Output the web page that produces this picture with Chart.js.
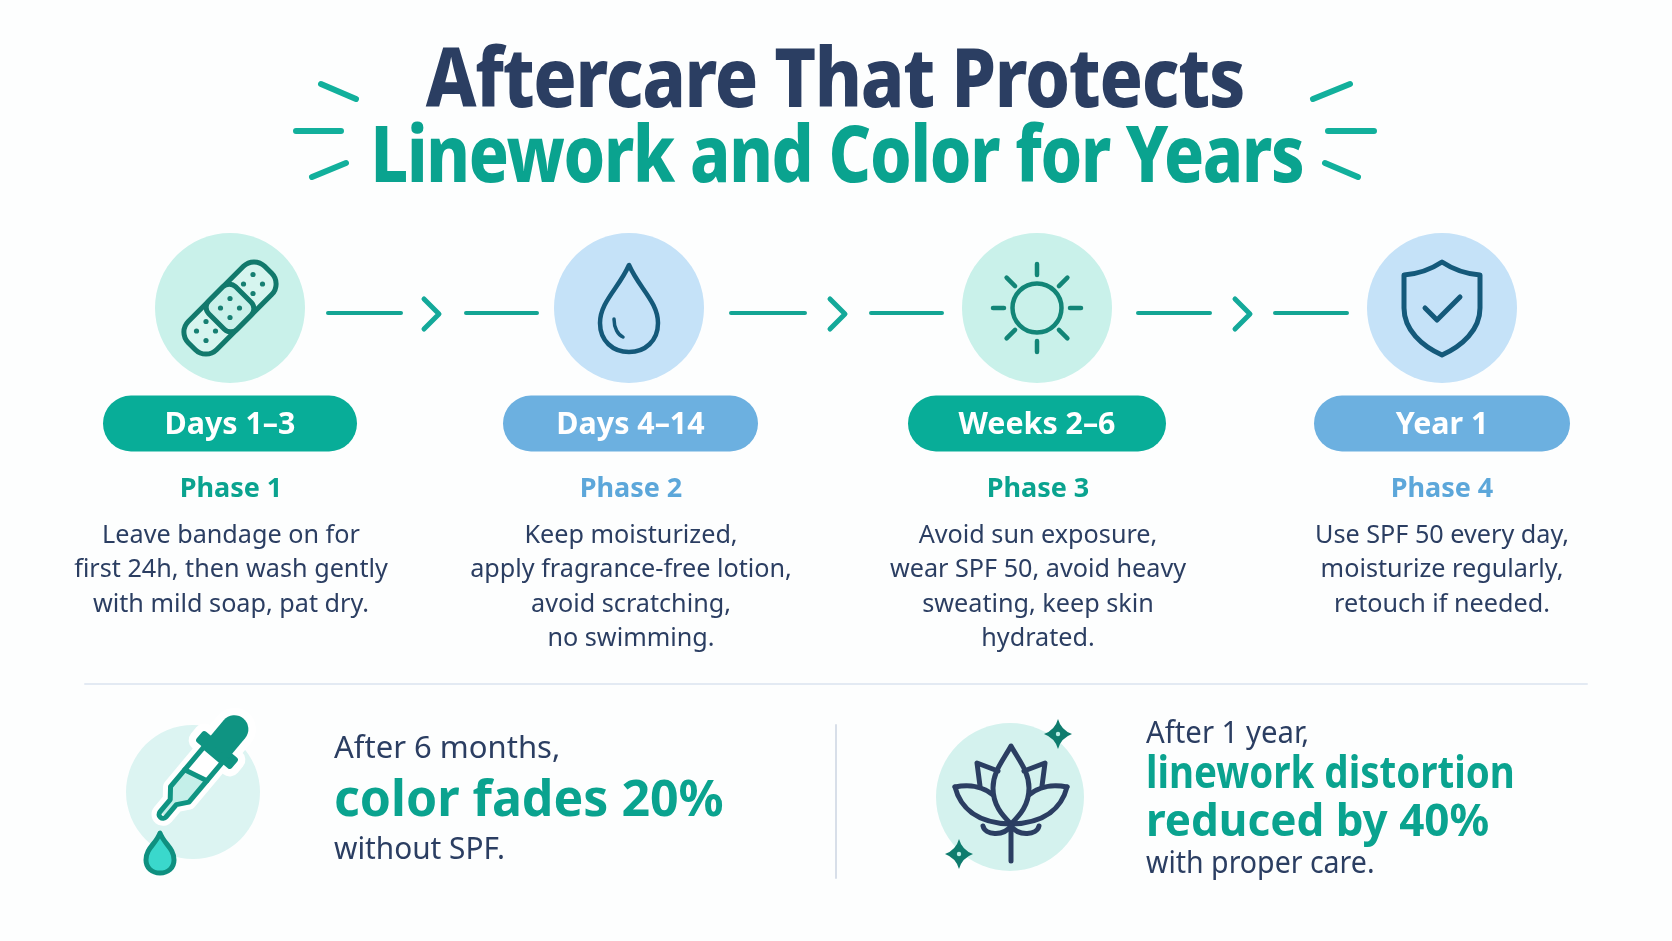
<!DOCTYPE html>
<html>
<head>
<meta charset="utf-8">
<title>Aftercare That Protects</title>
<script src="https://cdn.jsdelivr.net/npm/chart.js@4"></script>
<style>
  html, body { margin: 0; padding: 0; background: #fdfefe; }
  canvas { display: block; }
</style>
</head>
<body>
<canvas id="chart" width="1672" height="941"></canvas>
<script>
var titleLines = ['Aftercare That Protects', 'Linework and Color for Years'];
var stages = ['Days 1–3', 'Days 4–14', 'Weeks 2–6', 'Year 1'];
var phases = ['Phase 1', 'Phase 2', 'Phase 3', 'Phase 4'];
var phaseNotes = [
  ['Leave bandage on for', 'first 24h, then wash gently', 'with mild soap, pat dry.'],
  ['Keep moisturized,', 'apply fragrance-free lotion,', 'avoid scratching,', 'no swimming.'],
  ['Avoid sun exposure,', 'wear SPF 50, avoid heavy', 'sweating, keep skin', 'hydrated.'],
  ['Use SPF 50 every day,', 'moisturize regularly,', 'retouch if needed.']
];
var leftCallout = ['After 6 months,', 'color fades 20%', 'without SPF.'];
var rightCallout = ['After 1 year,', 'linework distortion', 'reduced by 40%', 'with proper care.'];

// layout, in page units (the x and y scales run over the whole page)
var stepX = [230, 629, 1037, 1442];
var noteX = [231, 631, 1038, 1442];
var pillEnds = [[103, 357], [503, 758], [908, 1166], [1314, 1570]];
var linkEnds = [[328, 401], [466, 537], [731, 805], [871, 942], [1138, 1210], [1275, 1347]];
var chevronX = [424, 830, 1235];

var TEAL = '#0aa38f';
var PILL_TEAL = '#08ad98';
var PILL_BLUE = '#6cb0e0';
var BLUE = '#5ca7da';
var NAVY = '#2b3e62';
var ICON_TEAL = '#12796c';
var ICON_SUN = '#128577';
var ICON_BLUE = '#14597a';
var FONT = '"Noto Sans", sans-serif';

function gapped(segments) {
  var pts = [];
  segments.forEach(function (seg, i) {
    if (i) pts.push({ x: NaN, y: NaN });
    seg.forEach(function (p) { pts.push({ x: p[0], y: p[1] }); });
  });
  return pts;
}

function lineSet(segments, color, width) {
  return {
    type: 'scatter',
    data: gapped(segments),
    showLine: true,
    clip: false,
    borderColor: color,
    borderWidth: width,
    borderCapStyle: 'round',
    borderJoinStyle: 'round',
    pointRadius: 0,
    spanGaps: false
  };
}

var datasets = [];

// step discs and the two callout discs
datasets.push({
  type: 'scatter',
  clip: false,
  data: stepX.map(function (x) { return { x: x, y: 308 }; }).concat([{ x: 193, y: 792 }, { x: 1010, y: 797 }]),
  pointRadius: [75, 75, 75, 75, 67, 74],
  pointHoverRadius: [75, 75, 75, 75, 67, 74],
  pointBorderWidth: 0,
  pointBackgroundColor: ['#c9f1ea', '#c5e2f8', '#c9f1ea', '#c5e2f8', '#dcf4f2', '#d4f2ee']
});

// stage pills are thick round-capped lines
pillEnds.forEach(function (ends, i) {
  datasets.push(lineSet([[[ends[0] + 28, 423.5], [ends[1] - 28, 423.5]]], i % 2 ? PILL_BLUE : PILL_TEAL, 56));
});

// connectors between the steps
datasets.push(lineSet(linkEnds.map(function (e) { return [[e[0], 313], [e[1], 313]]; }), '#14a594', 4));
datasets.push(lineSet(chevronX.map(function (x) {
  return [[x, 299], [x + 15, 314], [x, 329]];
}), '#14a99a', 5));

// dashes either side of the title
datasets.push(lineSet([
  [[321, 84], [356, 99]], [[296, 131], [341, 131]], [[312, 177], [346, 163]],
  [[1313, 99], [1350, 84]], [[1328, 131], [1374, 131]], [[1325, 163], [1358, 177]]
], '#12b09c', 6));

// dividers
datasets.push(lineSet([[[85, 684], [1587, 684]]], '#e3eaf3', 2));
datasets.push(lineSet([[[836, 725], [836, 878]]], '#d8dfe9', 2));

function text(ctx, str, x, y, font, color, opts) {
  opts = opts || {};
  ctx.save();
  ctx.translate(x, y);
  ctx.scale(opts.squeeze || 1, 1);
  ctx.font = font;
  ctx.fillStyle = color;
  ctx.textAlign = opts.align || 'center';
  ctx.textBaseline = 'alphabetic';
  ctx.letterSpacing = (opts.spacing || 0) + 'px';
  ctx.fillText(str, 0, 0);
  ctx.restore();
}

function stroke(ctx, color, width) {
  ctx.strokeStyle = color;
  ctx.lineWidth = width;
  ctx.lineCap = 'round';
  ctx.lineJoin = 'round';
}

function dots(ctx, list, r, color) {
  ctx.fillStyle = color;
  list.forEach(function (d) {
    ctx.beginPath();
    ctx.arc(d[0], d[1], r, 0, Math.PI * 2);
    ctx.fill();
  });
}

function bandage(ctx) {
  ctx.save();
  ctx.rotate(-Math.PI / 4);
  ctx.beginPath();
  ctx.roundRect(-54, -20, 108, 40, 15);
  ctx.fillStyle = '#d6f5ef';
  ctx.fill();
  stroke(ctx, ICON_TEAL, 5);
  ctx.stroke();
  ctx.beginPath();
  ctx.roundRect(-19, -20, 38, 40, 9);
  ctx.fillStyle = '#c9f1ea';
  ctx.fill();
  ctx.stroke();
  ctx.restore();
  var spot = [[0, -9.5], [0, 9.5], [-9.5, 0], [9.5, 0]];
  [[0, 0], [23, -24], [-24, 23]].forEach(function (c) {
    dots(ctx, spot.map(function (s) { return [c[0] + s[0], c[1] + s[1]]; }), 2.6, '#177f72');
  });
}

function drop(ctx) {
  stroke(ctx, ICON_BLUE, 4.5);
  ctx.stroke(new Path2D('M0,-43 C-10,-20 -29,-6 -29,15 C-29,33 -16,44 0,44 C16,44 29,33 29,15 C29,-6 10,-20 0,-43 Z'));
  ctx.lineWidth = 3.5;
  ctx.stroke(new Path2D('M-15,11 C-15,20 -11,27 -6,29'));
}

function sun(ctx) {
  stroke(ctx, ICON_SUN, 4.5);
  ctx.beginPath();
  ctx.arc(0, 0, 24.5, 0, Math.PI * 2);
  ctx.stroke();
  for (var i = 0; i < 8; i++) {
    var diag = i % 2 === 1;
    var a = i * Math.PI / 4;
    var r0 = diag ? 31 : 33;
    var r1 = diag ? 43 : 44;
    ctx.beginPath();
    ctx.moveTo(Math.cos(a) * r0, Math.sin(a) * r0);
    ctx.lineTo(Math.cos(a) * r1, Math.sin(a) * r1);
    ctx.stroke();
  }
}

function shield(ctx) {
  stroke(ctx, ICON_BLUE, 5);
  ctx.stroke(new Path2D('M0,-46 C12,-38 25,-34 38,-33 L38,0 C38,22 20,38 0,47 C-20,38 -38,22 -38,0 L-38,-33 C-25,-34 -12,-38 0,-46 Z'));
  ctx.stroke(new Path2D('M-17,0 L-5,12 L18,-11'));
}

function dropper(ctx) {
  // glass and bulb sit on the disc with a white halo round them
  var body = new Path2D('M-12,6 L-12,58 L-4,68 L-4,84 A4,4 0 0 0 4,84 L4,68 L12,58 L12,6 Z');
  ctx.save();
  ctx.translate(24, -42);
  ctx.rotate(40 * Math.PI / 180);
  stroke(ctx, '#ffffff', 15);
  ctx.stroke(body);
  ctx.beginPath();
  ctx.roundRect(-23, -7, 46, 14, 3);
  ctx.stroke();
  ctx.beginPath();
  ctx.roundRect(-14, -41, 28, 40, [14, 14, 0, 0]);
  ctx.stroke();
  ctx.fillStyle = '#ffffff';
  ctx.fill(body);
  ctx.fillStyle = '#c4efe9';
  ctx.fill(new Path2D('M-12,36 L12,30 L12,58 L4,68 L4,84 L-4,84 L-4,68 L-12,58 Z'));
  stroke(ctx, '#0f9482', 5);
  ctx.stroke(body);
  ctx.stroke(new Path2D('M-12,36 L12,30'));
  ctx.fillStyle = '#0f9482';
  ctx.beginPath();
  ctx.roundRect(-23, -7, 46, 14, 3);
  ctx.fill();
  ctx.beginPath();
  ctx.roundRect(-14, -41, 28, 40, [14, 14, 0, 0]);
  ctx.fill();
  ctx.restore();
  var bead = new Path2D('M-33,41 C-37,52 -47,56 -47,68 C-47,76 -41,81 -33,81 C-25,81 -19,76 -19,68 C-19,56 -29,52 -33,41 Z');
  ctx.fillStyle = '#3ad8cc';
  ctx.fill(bead);
  stroke(ctx, '#0f9080', 5);
  ctx.stroke(bead);
}

function sparkle(ctx, x, y) {
  ctx.save();
  ctx.translate(x, y);
  ctx.fillStyle = '#0f7c6e';
  ctx.fill(new Path2D('M0,-15 Q3,-4 14,0 Q3,4 0,15 Q-3,4 -14,0 Q-3,-4 0,-15 Z'));
  dots(ctx, [[0, 0]], 2.2, '#bdeee6');
  ctx.restore();
}

function lotus(ctx) {
  stroke(ctx, NAVY, 5);
  ctx.translate(1, 0);
  ctx.stroke(new Path2D('M0,-51 C-9,-35 -18,-25 -18,-9 C-18,8 -9,18 0,27 C9,18 18,8 18,-9 C18,-25 9,-35 0,-51 Z'));
  [1, -1].forEach(function (side) {
    ctx.save();
    ctx.scale(side, 1);
    ctx.stroke(new Path2D('M-56,-10 C-41,-13 -27,-10 -18,-2'));
    ctx.stroke(new Path2D('M-56,-10 C-51,10 -35,26 0,27'));
    ctx.stroke(new Path2D('M-13,-26 L-34,-34 L-31,-11'));
    ctx.stroke(new Path2D('M-28,29 C-26,38 -8,40 0,29'));
    ctx.restore();
  });
  ctx.stroke(new Path2D('M0,28 L0,64'));
  ctx.translate(-1, 0);
  sparkle(ctx, 48, -63);
  sparkle(ctx, -51, 57);
}

var overlayPlugin = {
  id: 'overlay',
  afterDatasetsDraw: function (chart) {
    var ctx = chart.ctx;
    var sx = chart.scales.x;
    var sy = chart.scales.y;
    var px = function (v) { return sx.getPixelForValue(v); };
    var py = function (v) { return sy.getPixelForValue(v); };
    var LEFT = 'left';

    ctx.save();
    text(ctx, titleLines[0], px(835), py(107), '800 82px ' + FONT, NAVY, { spacing: -1.5, squeeze: 0.875 });
    text(ctx, titleLines[1], px(837), py(182), '800 78px ' + FONT, TEAL, { spacing: -1.5, squeeze: 0.85 });

    [bandage, drop, sun, shield].forEach(function (icon, i) {
      ctx.save();
      ctx.translate(px(stepX[i]), py(308));
      icon(ctx);
      ctx.restore();
    });
    ctx.save();
    ctx.translate(px(193), py(792));
    dropper(ctx);
    ctx.restore();
    ctx.save();
    ctx.translate(px(1010), py(797));
    lotus(ctx);
    ctx.restore();

    stages.forEach(function (label, i) {
      var mid = (pillEnds[i][0] + pillEnds[i][1]) / 2;
      text(ctx, label, px(mid), py(434), '700 31px ' + FONT, '#ffffff', { squeeze: 0.98 });
      text(ctx, phases[i], px(noteX[i]), py(497), '700 27px ' + FONT, i % 2 ? BLUE : TEAL);
      phaseNotes[i].forEach(function (line, j) {
        text(ctx, line, px(noteX[i]), py(543 + j * 34.3), '400 25.2px ' + FONT, NAVY);
      });
    });

    text(ctx, leftCallout[0], px(334), py(758), '400 31px ' + FONT, NAVY, { align: LEFT });
    text(ctx, leftCallout[1], px(334), py(816), '700 50px ' + FONT, TEAL, { align: LEFT });
    text(ctx, leftCallout[2], px(334), py(859), '400 31px ' + FONT, NAVY, { align: LEFT, squeeze: 0.96 });

    text(ctx, rightCallout[0], px(1146), py(743), '400 31px ' + FONT, NAVY, { align: LEFT, squeeze: 0.945 });
    text(ctx, rightCallout[1], px(1146), py(788), '700 44px ' + FONT, TEAL, { align: LEFT, squeeze: 0.875 });
    text(ctx, rightCallout[2], px(1146), py(836), '700 44px ' + FONT, TEAL, { align: LEFT });
    text(ctx, rightCallout[3], px(1146), py(873), '400 31px ' + FONT, NAVY, { align: LEFT, squeeze: 0.92 });
    ctx.restore();
  }
};

new Chart(document.getElementById('chart'), {
  type: 'scatter',
  data: { datasets: datasets },
  plugins: [overlayPlugin],
  options: {
    responsive: false,
    animation: false,
    events: [],
    layout: { padding: 0, autoPadding: false },
    plugins: { legend: { display: false }, tooltip: { enabled: false }, title: { display: false } },
    scales: {
      x: { type: 'linear', display: false, min: 0, max: 1672 },
      y: { type: 'linear', display: false, min: 0, max: 941, reverse: true }
    }
  }
});
</script>
</body>
</html>
